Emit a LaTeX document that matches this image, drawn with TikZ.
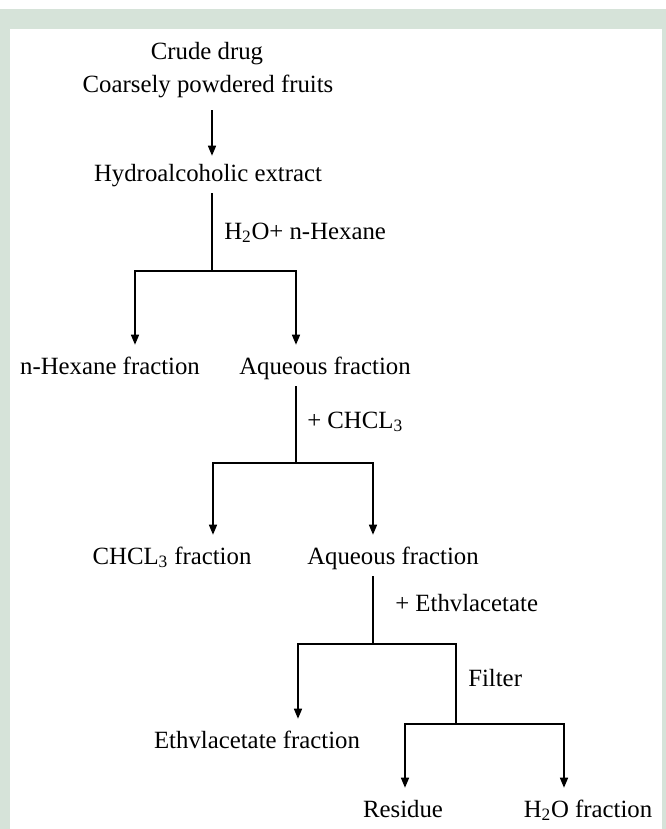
\documentclass[tikz,border=0pt]{standalone}
\usepackage{fontspec}
\setmainfont{Liberation Serif}
\usetikzlibrary{arrows.meta}
\definecolor{frame}{RGB}{214,227,217}
\tikzset{
  txt/.style={font=\fontsize{18.6pt}{24.75pt}\selectfont, inner xsep=0pt, inner ysep=5.25pt, text height=16.5pt, text depth=3.75pt, anchor=base},
  lbl/.style={font=\fontsize{18.6pt}{24.75pt}\selectfont, inner sep=0pt, anchor=base west},
  conn/.style={line width=1.1pt},
  tip/.style={-{Triangle[length=7.5pt,width=6pt]}},
  tips/.style={{Triangle[length=7.5pt,width=6pt]}-{Triangle[length=7.5pt,width=6pt]}},
}
\begin{document}
\begin{tikzpicture}[x=0.75pt,y=-0.75pt]
\useasboundingbox (0,0) rectangle (666,829);
\fill[frame] (0,9) rectangle (666,29);
\fill[frame] (0,9) rectangle (10,829);
\fill[frame] (662,9) rectangle (666,829);

\node[txt] (crude) at (207,59) {Crude drug};
\node[txt] (powder) at (208,92) {Coarsely powdered fruits};
\node[txt] (hydro) at (208,181) {Hydroalcoholic extract};
\node[lbl] (l1) at (224,239) {H\textsubscript{2}O+ n-Hexane};
\node[txt] (nhex) at (110,374) {n-Hexane fraction};
\node[txt] (aq1) at (325,374) {Aqueous fraction};
\node[lbl] (l2) at (307,428) {+ CHCL\textsubscript{3}};
\node[txt] (chcl) at (172,564) {CHCL\textsubscript{3} fraction};
\node[txt] (aq2) at (393,564) {Aqueous fraction};
\node[lbl] (l3) at (395,611) {+ Ethvlacetate};
\node[lbl] (l4) at (468,686) {Filter};
\node[txt] (ethyl) at (257,748) {Ethvlacetate fraction};
\node[txt] (res) at (403,817) {Residue};
\node[txt] (h2o) at (588,817) {H\textsubscript{2}O fraction};

\coordinate (j1) at (212,271);
\coordinate (b1l) at (135,271);
\coordinate (b1r) at (296,271);
\coordinate (j2) at (296,463);
\coordinate (b2l) at (213,463);
\coordinate (b2r) at (373,463);
\coordinate (j3) at (373,644);
\coordinate (b3l) at (298,644);
\coordinate (b3r) at (456,644);
\coordinate (j4) at (456,724);
\coordinate (b4l) at (405,724);
\coordinate (b4r) at (564,724);

\draw[conn,tip,shorten <=4.5pt,shorten >=-3pt] (j1 |- powder.south) -- (j1 |- hydro.north);
\draw[conn] (j1 |- hydro.south) -- (j1);
\draw[conn,tips] (b1l |- nhex.north) -- (b1l) -- (b1r) -- (b1r |- aq1.north);
\draw[conn] (j2 |- aq1.south) -- (j2);
\draw[conn,tips] (b2l |- chcl.north) -- (b2l) -- (b2r) -- (b2r |- aq2.north);
\draw[conn] (j3 |- aq2.south) -- (j3);
\draw[conn,tip] (j4) -- (b3r) -- (b3l) -- (b3l |- ethyl.north);
\draw[conn,tips] (b4l |- res.north) -- (b4l) -- (b4r) -- (b4r |- h2o.north);
\end{tikzpicture}
\end{document}
